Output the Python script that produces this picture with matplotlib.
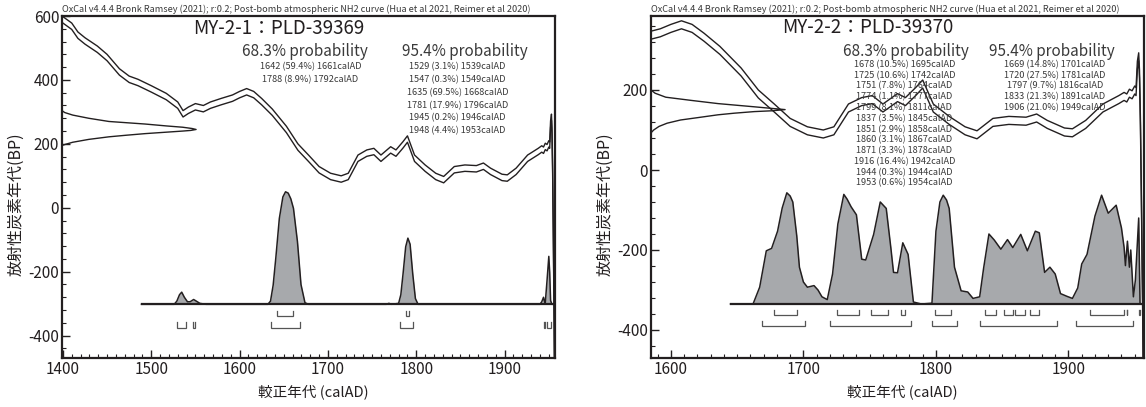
import matplotlib
matplotlib.use("Agg")
import matplotlib.pyplot as plt
from matplotlib.transforms import blended_transform_factory
from matplotlib.ticker import MultipleLocator

plt.rcParams['font.family'] = ['Noto Sans CJK JP', 'DejaVu Sans']
plt.rcParams['axes.unicode_minus'] = False

HEADER = ("OxCal v4.4.4 Bronk Ramsey (2021); r:0.2; Post-bomb atmospheric NH2 curve "
          "(Hua et al 2021, Reimer et al 2020)")
XLABEL = "較正年代 (calAD)"
YLABEL = "放射性炭素年代(BP)"

# ---- calibration curve (calAD, mean BP) and 1-sigma half width ----
curve_year = [1399, 1410, 1417, 1425, 1439, 1450, 1464, 1475, 1485, 1500, 1517, 1530,
              1536, 1542, 1550, 1559, 1567, 1579, 1592, 1600, 1608, 1616, 1625, 1637,
              1645, 1653, 1666, 1678, 1690, 1703, 1715, 1723, 1734, 1744, 1752, 1760,
              1771, 1777, 1785, 1790, 1798, 1810, 1822, 1831, 1843, 1855, 1868, 1876,
              1884, 1897, 1903, 1913, 1926, 1938, 1942, 1944, 1946, 1948, 1950, 1951,
              1952, 1953, 1953.6, 1954.3, 1955, 1956, 1957]
curve_bp = [590, 568, 540, 522, 496, 470, 425, 402, 392, 372, 348, 321,
            294, 305, 316, 310, 321, 332, 343, 354, 363, 354, 332, 299,
            272, 245, 190, 155, 119, 98, 90, 98, 155, 171, 176, 155,
            181, 171, 197, 215, 155, 124, 98, 88, 119, 124, 122, 130,
            114, 95, 93, 114, 155, 176, 184, 180, 192, 188, 200, 196,
            262, 283, 240, 120, -60, -350, -700]
curve_sigma = 10

# ---- sample 1: MY-2-1 ----
s1_title = "MY-2-1：PLD-39369"
s1_gauss_bp = [304, 298, 290, 280, 270, 262, 256, 252, 248, 245, 242, 240, 236, 232,
               227, 222, 214, 205, 199, 195]
s1_gauss_w = [0, 0.02, 0.08, 0.2, 0.35, 0.62, 0.78, 0.9, 0.97, 1.0, 0.96, 0.9, 0.76, 0.62,
              0.48, 0.35, 0.2, 0.08, 0.03, 0]
s1_post_year = [1489, 1526, 1529, 1532, 1534.5, 1537.5, 1541, 1544, 1548, 1551, 1555, 1562,
                1632, 1635, 1638, 1641, 1645, 1649, 1652, 1655, 1658, 1661, 1665.5, 1669.5,
                1674, 1678, 1766, 1769, 1772, 1780, 1782.5, 1785, 1788, 1790.5, 1793, 1796,
                1799, 1802, 1940, 1942, 1944, 1945, 1946, 1948, 1950, 1951, 1952, 1953.5, 1955]
s1_post_h = [0, 0, 10, 30, 38, 22, 8, 8, 15, 10, 3, 0,
             0, 10, 60, 145, 269, 336, 352, 348, 330, 300, 196, 62,
             5, 0, 0, 3, 0, 3, 30, 95, 180, 207, 188, 95,
             18, 0, 0, 8, 22, 10, 5, 75, 150, 100, 12, 0, 0]
s1_r68_from = [1642, 1788]
s1_r68_pct = [59.4, 8.9]
s1_r68_to = [1661, 1792]
s1_r95_from = [1529, 1547, 1635, 1781, 1945, 1948]
s1_r95_pct = [3.1, 0.3, 69.5, 17.9, 0.2, 4.4]
s1_r95_to = [1539, 1549, 1668, 1796, 1946, 1953]

# ---- sample 2: MY-2-2 ----
s2_title = "MY-2-2：PLD-39370"
s2_gauss_bp = [200, 192, 182, 174, 166, 158, 154, 151, 148, 146, 142, 138, 131, 125,
               117, 109, 100, 93]
s2_gauss_w = [0, 0.03, 0.11, 0.3, 0.5, 0.77, 0.9, 1.0, 0.9, 0.77, 0.62, 0.5, 0.35, 0.22,
              0.12, 0.06, 0.02, 0]
s2_post_year = [1645, 1662, 1667, 1672, 1676, 1680.5, 1684, 1687.5, 1690, 1692, 1695, 1697,
                1700, 1703, 1708, 1711, 1714, 1718, 1722, 1726, 1730.5, 1733, 1736, 1740,
                1744, 1747, 1753, 1758, 1762.5, 1766, 1768, 1771, 1775, 1779, 1783, 1789,
                1797, 1800, 1803, 1805.5, 1808, 1810, 1814, 1819, 1824, 1828, 1833, 1836,
                1840, 1844, 1849, 1854, 1858, 1864, 1869, 1875, 1878, 1882, 1886, 1890,
                1894, 1899, 1903, 1907, 1910, 1914, 1920, 1925, 1930, 1936, 1940, 1942,
                1943, 1944.5, 1946, 1947, 1949, 1950.5, 1953, 1954, 1955]
s2_post_h = [0, 0, 42, 133, 139, 182, 240, 278, 270, 255, 170, 92,
             55, 42, 46, 35, 18, 11, 75, 200, 274, 262, 243, 223,
             112, 110, 174, 255, 239, 140, 79, 78, 153, 124, 5, 0,
             2, 182, 255, 272, 260, 239, 92, 33, 30, 14, 18, 90,
             175, 160, 137, 161, 141, 174, 133, 182, 178, 79, 92, 75,
             26, 19, 14, 40, 100, 124, 220, 272, 227, 247, 190, 141,
             96, 157, 92, 135, 18, 60, 215, 2, 0]
s2_r68_from = [1678, 1725, 1751, 1774, 1799, 1837, 1851, 1860, 1871, 1916, 1944, 1953]
s2_r68_pct = [10.5, 10.6, 7.8, 1.1, 8.1, 3.5, 2.9, 3.1, 3.3, 16.4, 0.3, 0.6]
s2_r68_to = [1695, 1742, 1764, 1777, 1811, 1845, 1858, 1867, 1878, 1942, 1944, 1954]
s2_r95_from = [1669, 1720, 1797, 1833, 1906]
s2_r95_pct = [14.8, 27.5, 9.7, 21.3, 21.0]
s2_r95_to = [1701, 1781, 1816, 1891, 1949]

INK = '#231f20'
TXT = '#3a3a3a'
FILL = '#a7a9ac'

W, H = 1146, 407
fig = plt.figure(figsize=(W / 100, H / 100), dpi=100)


def ranges_text(f, p, t):
    return [f"{a} ({q:.1f}%) {b}calAD" for a, q, b in zip(f, p, t)]


def panel(rect, xlim, ylim, title, gbp, gw, pyear, ph, base,
          r68, r95, lay):
    ax = fig.add_axes(rect)
    ax.set_xlim(*xlim)
    ax.set_ylim(*ylim)
    upper = [m + curve_sigma for m in curve_bp]
    lower = [m - curve_sigma for m in curve_bp]
    ax.plot(curve_year, upper, color=INK, lw=1.0, zorder=3)
    ax.plot(curve_year, lower, color=INK, lw=1.0, zorder=3)

    # measured date distribution on y axis
    tr = blended_transform_factory(ax.transAxes, ax.transData)
    ax.plot([w * 0.272 for w in gw], gbp, color=INK, lw=1.0, transform=tr, zorder=3)

    # posterior (calibrated) distribution
    top = [base + h for h in ph]
    ax.fill_between(pyear, base, top, color=FILL, lw=0, zorder=2)
    ax.plot(pyear, top, color=INK, lw=1.1, zorder=3)
    ax.plot([pyear[0], xlim[1]], [base, base], color=INK, lw=1.6, zorder=3)

    # range brackets
    yr = ylim[1] - ylim[0]
    bh = lay['bh'] * yr
    for (fr, to), yoff in ((r68, lay['b68']), (r95, lay['b95'])):
        y0 = base - yoff * yr
        for a, b in zip(fr, to):
            ax.plot([a, a, b, b], [y0 + bh, y0, y0, y0 + bh], color='#555555',
                    lw=0.9, zorder=3, solid_joinstyle='miter')

    # texts
    ax.text(0, 1.006, HEADER, transform=ax.transAxes, ha='left', va='bottom',
            fontsize=6.6, color=TXT)
    ax.text(0.44, lay['ty'], title, transform=ax.transAxes, ha='center', va='center',
            fontsize=13.5, color=INK)
    ax.text(lay['p68x'], lay['py'], "68.3% probability", transform=ax.transAxes,
            ha='center', va='center', fontsize=11, color=TXT, zorder=5)
    ax.text(lay['p95x'], lay['py'], "95.4% probability", transform=ax.transAxes,
            ha='center', va='center', fontsize=11, color=TXT, zorder=5)
    for i, s in enumerate(ranges_text(r68[0], lay['pct68'], r68[1])):
        ax.text(lay['l68x'], lay['ly'] - i * lay['dy'], s, transform=ax.transAxes,
                ha='center', va='center', fontsize=6.6, color=TXT, zorder=5)
    for i, s in enumerate(ranges_text(r95[0], lay['pct95'], r95[1])):
        ax.text(lay['l95x'], lay['ly'] - i * lay['dy'], s, transform=ax.transAxes,
                ha='center', va='center', fontsize=6.6, color=TXT, zorder=5)

    ax.text(0.51, -0.10, XLABEL, transform=ax.transAxes, ha='center', va='center',
            fontsize=10.5, color=INK)
    ax.text(-46 / 493, 0.45, YLABEL, transform=ax.transAxes, ha='center', va='center',
            rotation=90, fontsize=11.5, color=INK)

    ax.xaxis.set_major_locator(MultipleLocator(100))
    ax.xaxis.set_minor_locator(MultipleLocator(10))
    ax.yaxis.set_major_locator(MultipleLocator(200))
    ax.yaxis.set_minor_locator(MultipleLocator(40))
    ax.tick_params(which='both', direction='in', color=INK, labelcolor=INK,
                   labelsize=11, top=False, right=False)
    ax.tick_params(which='major', length=6, width=1.0, pad=2)
    ax.tick_params(which='minor', length=3, width=0.8)
    for sp in ax.spines.values():
        sp.set_linewidth(1.6)
        sp.set_color(INK)
    return ax


lay1 = dict(ty=0.962, py=0.895, p68x=0.493, p95x=0.817, l68x=0.504, l95x=0.802,
            ly=0.851, dy=0.0374, b68=0.035, b95=0.068, bh=0.016,
            pct68=s1_r68_pct, pct95=s1_r95_pct)
lay2 = dict(ty=0.966, py=0.895, p68x=0.517, p95x=0.814, l68x=0.514, l95x=0.819,
            ly=0.858, dy=0.0315, b68=0.032, b95=0.063, bh=0.014,
            pct68=s2_r68_pct, pct95=s2_r95_pct)

panel([62 / W, 49 / H, 493 / W, 342 / H], (1399, 1957), (-470, 600), s1_title,
      s1_gauss_bp, s1_gauss_w, s1_post_year, s1_post_h, -302,
      (s1_r68_from, s1_r68_to), (s1_r95_from, s1_r95_to), lay1)
panel([651 / W, 49 / H, 493 / W, 342 / H], (1585, 1957), (-470, 385), s2_title,
      s2_gauss_bp, s2_gauss_w, s2_post_year, s2_post_h, -335,
      (s2_r68_from, s2_r68_to), (s2_r95_from, s2_r95_to), lay2)

fig.savefig("out.png", dpi=100)
